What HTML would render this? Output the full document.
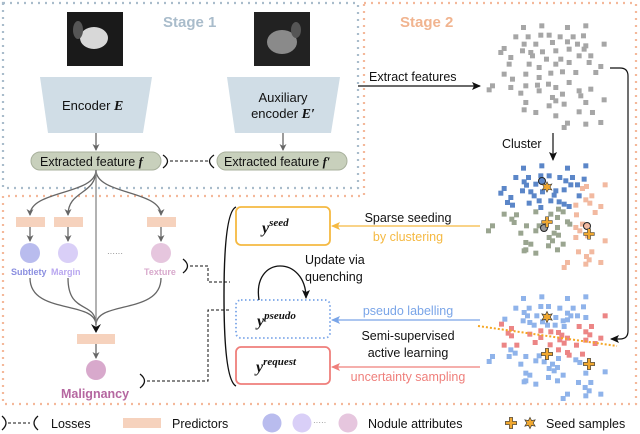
<!DOCTYPE html>
<html><head><meta charset="utf-8"><style>
html,body{margin:0;padding:0;background:#fff}
svg{display:block;font-family:"Liberation Sans",sans-serif}
.m{font-family:"Liberation Serif",serif;font-style:italic;font-weight:bold}
.sc rect{width:15px;height:15px}
</style></head><body>
<svg width="640" height="434" viewBox="0 0 640 434" xmlns="http://www.w3.org/2000/svg">
<defs>
<marker id="ag" markerWidth="8" markerHeight="8" refX="6" refY="4" orient="auto" markerUnits="userSpaceOnUse"><path d="M0,0.5 L7,4 L0,7.5 L2,4 Z" fill="#666"/></marker>
<marker id="ak" markerWidth="10" markerHeight="10" refX="8" refY="5" orient="auto" markerUnits="userSpaceOnUse"><path d="M0,1 L9,5 L0,9 L2,5 Z" fill="#111"/></marker>
<marker id="ao" markerWidth="10" markerHeight="10" refX="8" refY="5" orient="auto" markerUnits="userSpaceOnUse"><path d="M0,1 L9,5 L0,9 L2,5 Z" fill="#f5b942"/></marker>
<marker id="ab" markerWidth="10" markerHeight="10" refX="8" refY="5" orient="auto" markerUnits="userSpaceOnUse"><path d="M0,1 L9,5 L0,9 L2,5 Z" fill="#7aa5e8"/></marker>
<marker id="ar" markerWidth="10" markerHeight="10" refX="8" refY="5" orient="auto" markerUnits="userSpaceOnUse"><path d="M0,1 L9,5 L0,9 L2,5 Z" fill="#ef7f7b"/></marker>
<g id="plus"><path d="M-2,-7 H2 V-2 H7 V2 H2 V7 H-2 V2 H-7 V-2 H-2 Z" fill="#f0a830" stroke="#333" stroke-width="0.8"/></g>
<g id="star"><polygon points="0,-7 2,-3 6.5,-4 4,0 6.5,4 2,3 0,7 -2,3 -6.5,4 -4,0 -6.5,-4 -2,-3" fill="#f0a830" stroke="#333" stroke-width="0.8"/></g>
</defs>

<rect x="3" y="3" width="355" height="185" fill="none" stroke="#a9bccb" stroke-width="2.2" stroke-dasharray="2 5"/>
<path d="M364,3 H636 V404 H3 V196 H364 Z" fill="none" stroke="#f4b89a" stroke-width="2.2" stroke-dasharray="2 5"/>
<text x="163" y="27" font-size="15" font-weight="bold" fill="#a9bccb">Stage 1</text>
<text x="400" y="27" font-size="15" font-weight="bold" fill="#f1b48f">Stage 2</text>

<rect x="67" y="12" width="56" height="54" fill="#1a1a1a"/>
<ellipse cx="94" cy="38" rx="14" ry="11" fill="#d8d8d8"/>
<ellipse cx="78" cy="30" rx="5" ry="9" fill="#555"/>
<rect x="254" y="12" width="56" height="54" fill="#222"/>
<ellipse cx="282" cy="42" rx="15" ry="12" fill="#8a8a8a"/>
<ellipse cx="296" cy="30" rx="5" ry="8" fill="#555"/>

<polygon points="40,77 152,77 143,133 48,133" fill="#d0dde6"/>
<text x="62" y="110" font-size="13" fill="#111">Encoder <tspan class="m" font-size="14">E</tspan></text>
<polygon points="227,77 340,77 331,133 235,133" fill="#d0dde6"/>
<text x="283" y="102" font-size="13" fill="#111" text-anchor="middle">Auxiliary</text>
<text x="283" y="118" font-size="13" fill="#111" text-anchor="middle">encoder <tspan class="m" font-size="14">E′</tspan></text>
<line x1="96" y1="133" x2="96" y2="150" stroke="#666" stroke-width="1.3" marker-end="url(#ag)"/>
<line x1="283" y1="133" x2="283" y2="150" stroke="#666" stroke-width="1.3" marker-end="url(#ag)"/>

<rect x="31" y="152" width="130" height="18" rx="9" fill="#c8d0bc" stroke="#a8b09c"/>
<text x="40" y="166" font-size="12.5" fill="#111">Extracted feature <tspan class="m">f</tspan></text>
<rect x="217" y="152" width="130" height="18" rx="9" fill="#c8d0bc" stroke="#a8b09c"/>
<text x="224" y="166" font-size="12.5" fill="#111">Extracted feature <tspan class="m">f′</tspan></text>
<path d="M163,155 Q172,161 163,168" fill="none" stroke="#111" stroke-width="1.3"/>
<line x1="170" y1="161" x2="208" y2="161" stroke="#111" stroke-width="1" stroke-dasharray="3 2"/>
<path d="M214,155 Q205,161 214,168" fill="none" stroke="#111" stroke-width="1.3"/>

<text x="369" y="81" font-size="12.5" fill="#111">Extract features</text>
<line x1="358" y1="86" x2="480" y2="86" stroke="#111" stroke-width="1.2" marker-end="url(#ak)"/>
<text x="502" y="148" font-size="12.5" fill="#111">Cluster</text>
<line x1="553" y1="133" x2="553" y2="160" stroke="#111" stroke-width="1.2" marker-end="url(#ak)"/>
<path d="M610,68 H620 Q628,68 628,76 V331 Q628,339 620,339 H611" fill="none" stroke="#111" stroke-width="1.2" marker-end="url(#ak)"/>

<g class="sc" transform="translate(320,0) scale(0.3333)" fill="#a6a6a6">
<rect x="603" y="75" width="15" height="15"/><rect x="658" y="70" width="15" height="15"/><rect x="735" y="75" width="15" height="15"/><rect x="790" y="70" width="15" height="15"/><rect x="580" y="103" width="15" height="15"/><rect x="617" y="103" width="15" height="15"/><rect x="655" y="98" width="15" height="15"/><rect x="680" y="98" width="15" height="15"/><rect x="713" y="103" width="15" height="15"/><rect x="752" y="103" width="15" height="15"/><rect x="783" y="100" width="15" height="15"/><rect x="605" y="125" width="15" height="15"/><rect x="640" y="125" width="15" height="15"/><rect x="690" y="120" width="15" height="15"/><rect x="735" y="118" width="15" height="15"/><rect x="765" y="125" width="15" height="15"/><rect x="790" y="130" width="15" height="15"/><rect x="845" y="125" width="15" height="15"/><rect x="545" y="138" width="15" height="15"/><rect x="600" y="145" width="15" height="15"/><rect x="625" y="150" width="15" height="15"/><rect x="660" y="148" width="15" height="15"/><rect x="700" y="145" width="15" height="15"/><rect x="740" y="140" width="15" height="15"/><rect x="785" y="140" width="15" height="15"/><rect x="535" y="150" width="15" height="15"/><rect x="565" y="165" width="15" height="15"/><rect x="630" y="160" width="15" height="15"/><rect x="672" y="170" width="15" height="15"/><rect x="715" y="170" width="15" height="15"/><rect x="770" y="160" width="15" height="15"/><rect x="805" y="160" width="15" height="15"/><rect x="560" y="185" width="15" height="15"/><rect x="620" y="185" width="15" height="15"/><rect x="650" y="195" width="15" height="15"/><rect x="700" y="185" width="15" height="15"/><rect x="740" y="180" width="15" height="15"/><rect x="800" y="180" width="15" height="15"/><rect x="835" y="192" width="15" height="15"/><rect x="545" y="215" width="15" height="15"/><rect x="570" y="230" width="15" height="15"/><rect x="610" y="215" width="15" height="15"/><rect x="650" y="225" width="15" height="15"/><rect x="685" y="212" width="15" height="15"/><rect x="720" y="208" width="15" height="15"/><rect x="760" y="210" width="15" height="15"/><rect x="820" y="210" width="15" height="15"/><rect x="510" y="250" width="15" height="15"/><rect x="500" y="262" width="15" height="15"/><rect x="565" y="255" width="15" height="15"/><rect x="610" y="250" width="15" height="15"/><rect x="645" y="248" width="15" height="15"/><rect x="678" y="245" width="15" height="15"/><rect x="700" y="255" width="15" height="15"/><rect x="740" y="240" width="15" height="15"/><rect x="770" y="265" width="15" height="15"/><rect x="805" y="260" width="15" height="15"/><rect x="595" y="272" width="15" height="15"/><rect x="650" y="265" width="15" height="15"/><rect x="690" y="285" width="15" height="15"/><rect x="720" y="275" width="15" height="15"/><rect x="775" y="280" width="15" height="15"/><rect x="845" y="292" width="15" height="15"/><rect x="610" y="300" width="15" height="15"/><rect x="640" y="330" width="15" height="15"/><rect x="680" y="310" width="15" height="15"/><rect x="700" y="295" width="15" height="15"/><rect x="725" y="305" width="15" height="15"/><rect x="790" y="300" width="15" height="15"/><rect x="605" y="322" width="15" height="15"/><rect x="770" y="328" width="15" height="15"/><rect x="810" y="330" width="15" height="15"/><rect x="700" y="340" width="15" height="15"/><rect x="835" y="360" width="15" height="15"/><rect x="735" y="362" width="15" height="15"/><rect x="725" y="375" width="15" height="15"/><rect x="790" y="365" width="15" height="15"/>
</g>

<g class="sc" transform="translate(470,160) scale(0.3333)">
<g fill="#5b86c8">
<rect x="153" y="17" width="15" height="15"/><rect x="208" y="10" width="15" height="15"/><rect x="285" y="17" width="15" height="15"/><rect x="340" y="10" width="15" height="15"/><rect x="130" y="45" width="15" height="15"/><rect x="168" y="45" width="15" height="15"/><rect x="205" y="40" width="15" height="15"/><rect x="230" y="40" width="15" height="15"/><rect x="262" y="45" width="15" height="15"/><rect x="300" y="45" width="15" height="15"/><rect x="335" y="50" width="15" height="15"/><rect x="155" y="58" width="15" height="15"/><rect x="190" y="65" width="15" height="15"/><rect x="280" y="55" width="15" height="15"/><rect x="295" y="67" width="15" height="15"/><rect x="315" y="67" width="15" height="15"/><rect x="162" y="68" width="15" height="15"/><rect x="95" y="78" width="15" height="15"/><rect x="85" y="92" width="15" height="15"/><rect x="150" y="85" width="15" height="15"/><rect x="175" y="88" width="15" height="15"/><rect x="185" y="100" width="15" height="15"/><rect x="210" y="88" width="15" height="15"/><rect x="250" y="85" width="15" height="15"/><rect x="275" y="82" width="15" height="15"/><rect x="320" y="100" width="15" height="15"/><rect x="115" y="105" width="15" height="15"/><rect x="105" y="120" width="15" height="15"/><rect x="170" y="122" width="15" height="15"/><rect x="200" y="115" width="15" height="15"/><rect x="235" y="115" width="15" height="15"/><rect x="260" y="118" width="15" height="15"/><rect x="275" y="125" width="15" height="15"/><rect x="290" y="132" width="15" height="15"/><rect x="120" y="128" width="15" height="15"/><rect x="205" y="135" width="15" height="15"/><rect x="245" y="98" width="15" height="15"/>
</g>
<g fill="#9aa590">
<rect x="95" y="155" width="15" height="15"/><rect x="132" y="157" width="15" height="15"/><rect x="118" y="170" width="15" height="15"/><rect x="125" y="180" width="15" height="15"/><rect x="190" y="148" width="15" height="15"/><rect x="235" y="155" width="15" height="15"/><rect x="258" y="140" width="15" height="15"/><rect x="272" y="148" width="15" height="15"/><rect x="255" y="165" width="15" height="15"/><rect x="285" y="178" width="15" height="15"/><rect x="292" y="185" width="15" height="15"/><rect x="60" y="190" width="15" height="15"/><rect x="48" y="205" width="15" height="15"/><rect x="162" y="190" width="15" height="15"/><rect x="145" y="212" width="15" height="15"/><rect x="200" y="190" width="15" height="15"/><rect x="190" y="205" width="15" height="15"/><rect x="255" y="195" width="15" height="15"/><rect x="245" y="212" width="15" height="15"/><rect x="230" y="225" width="15" height="15"/><rect x="240" y="235" width="15" height="15"/><rect x="258" y="218" width="15" height="15"/><rect x="160" y="240" width="15" height="15"/><rect x="175" y="245" width="15" height="15"/><rect x="160" y="262" width="15" height="15"/><rect x="155" y="265" width="15" height="15"/><rect x="190" y="272" width="15" height="15"/><rect x="228" y="250" width="15" height="15"/><rect x="255" y="262" width="15" height="15"/><rect x="272" y="245" width="15" height="15"/>
</g>
<g fill="#f2b9a0">
<rect x="342" y="72" width="15" height="15"/><rect x="330" y="78" width="15" height="15"/><rect x="398" y="67" width="15" height="15"/><rect x="358" y="100" width="15" height="15"/><rect x="340" y="112" width="15" height="15"/><rect x="352" y="122" width="15" height="15"/><rect x="310" y="128" width="15" height="15"/><rect x="385" y="132" width="15" height="15"/><rect x="368" y="150" width="15" height="15"/><rect x="312" y="157" width="15" height="15"/><rect x="330" y="185" width="15" height="15"/><rect x="310" y="195" width="15" height="15"/><rect x="322" y="205" width="15" height="15"/><rect x="345" y="220" width="15" height="15"/><rect x="310" y="225" width="15" height="15"/><rect x="398" y="235" width="15" height="15"/><rect x="318" y="268" width="15" height="15"/><rect x="342" y="282" width="15" height="15"/><rect x="350" y="292" width="15" height="15"/><rect x="358" y="268" width="15" height="15"/><rect x="285" y="300" width="15" height="15"/><rect x="275" y="315" width="15" height="15"/><rect x="340" y="305" width="15" height="15"/><rect x="385" y="300" width="15" height="15"/>
</g>
</g>
<circle cx="542" cy="181" r="3.5" fill="#5b86c8" stroke="#222" stroke-width="1"/>
<use href="#star" transform="translate(547,187) scale(0.75)"/>
<circle cx="544" cy="228" r="3.5" fill="#999" stroke="#222" stroke-width="1"/>
<use href="#plus" transform="translate(547,222) scale(0.75)"/>
<circle cx="587" cy="226" r="3.5" fill="#f2b9a0" stroke="#222" stroke-width="1"/>
<use href="#plus" transform="translate(589,234) scale(0.75)"/>

<g class="sc" transform="translate(470,280) scale(0.3333)">
<g fill="#8fb3ea">
<rect x="153" y="48" width="15" height="15"/><rect x="208" y="43" width="15" height="15"/><rect x="285" y="48" width="15" height="15"/><rect x="340" y="43" width="15" height="15"/><rect x="130" y="77" width="15" height="15"/><rect x="170" y="77" width="15" height="15"/><rect x="205" y="72" width="15" height="15"/><rect x="228" y="72" width="15" height="15"/><rect x="262" y="77" width="15" height="15"/><rect x="302" y="77" width="15" height="15"/><rect x="333" y="73" width="15" height="15"/><rect x="97" y="110" width="15" height="15"/><rect x="155" y="90" width="15" height="15"/><rect x="165" y="100" width="15" height="15"/><rect x="193" y="100" width="15" height="15"/><rect x="285" y="92" width="15" height="15"/><rect x="295" y="100" width="15" height="15"/><rect x="315" y="100" width="15" height="15"/><rect x="340" y="105" width="15" height="15"/><rect x="152" y="115" width="15" height="15"/><rect x="172" y="120" width="15" height="15"/><rect x="185" y="128" width="15" height="15"/><rect x="210" y="118" width="15" height="15"/><rect x="250" y="105" width="15" height="15"/><rect x="272" y="115" width="15" height="15"/><rect x="285" y="112" width="15" height="15"/><rect x="225" y="128" width="15" height="15"/><rect x="248" y="128" width="15" height="15"/><rect x="275" y="132" width="15" height="15"/><rect x="115" y="202" width="15" height="15"/><rect x="128" y="212" width="15" height="15"/><rect x="60" y="222" width="15" height="15"/><rect x="50" y="237" width="15" height="15"/><rect x="160" y="222" width="15" height="15"/><rect x="200" y="220" width="15" height="15"/><rect x="190" y="235" width="15" height="15"/><rect x="215" y="238" width="15" height="15"/><rect x="145" y="245" width="15" height="15"/><rect x="240" y="245" width="15" height="15"/><rect x="258" y="228" width="15" height="15"/><rect x="310" y="232" width="15" height="15"/><rect x="322" y="240" width="15" height="15"/><rect x="230" y="258" width="15" height="15"/><rect x="245" y="265" width="15" height="15"/><rect x="272" y="278" width="15" height="15"/><rect x="160" y="272" width="15" height="15"/><rect x="172" y="278" width="15" height="15"/><rect x="160" y="295" width="15" height="15"/><rect x="155" y="298" width="15" height="15"/><rect x="190" y="305" width="15" height="15"/><rect x="228" y="285" width="15" height="15"/><rect x="255" y="295" width="15" height="15"/><rect x="318" y="300" width="15" height="15"/><rect x="355" y="300" width="15" height="15"/><rect x="338" y="315" width="15" height="15"/><rect x="350" y="325" width="15" height="15"/><rect x="285" y="335" width="15" height="15"/><rect x="272" y="348" width="15" height="15"/><rect x="340" y="340" width="15" height="15"/><rect x="385" y="335" width="15" height="15"/><rect x="398" y="268" width="15" height="15"/><rect x="340" y="272" width="15" height="15"/><rect x="255" y="255" width="15" height="15"/><rect x="110" y="222" width="15" height="15"/>
</g>
<g fill="#ec8585">
<rect x="87" y="125" width="15" height="15"/><rect x="117" y="138" width="15" height="15"/><rect x="107" y="152" width="15" height="15"/><rect x="117" y="160" width="15" height="15"/><rect x="172" y="155" width="15" height="15"/><rect x="205" y="145" width="15" height="15"/><rect x="235" y="148" width="15" height="15"/><rect x="258" y="150" width="15" height="15"/><rect x="268" y="158" width="15" height="15"/><rect x="285" y="167" width="15" height="15"/><rect x="320" y="132" width="15" height="15"/><rect x="357" y="132" width="15" height="15"/><rect x="340" y="148" width="15" height="15"/><rect x="352" y="157" width="15" height="15"/><rect x="385" y="167" width="15" height="15"/><rect x="398" y="100" width="15" height="15"/><rect x="95" y="188" width="15" height="15"/><rect x="133" y="188" width="15" height="15"/><rect x="188" y="180" width="15" height="15"/><rect x="205" y="165" width="15" height="15"/><rect x="233" y="187" width="15" height="15"/><rect x="262" y="172" width="15" height="15"/><rect x="275" y="182" width="15" height="15"/><rect x="312" y="188" width="15" height="15"/><rect x="340" y="173" width="15" height="15"/><rect x="368" y="183" width="15" height="15"/><rect x="258" y="202" width="15" height="15"/><rect x="285" y="210" width="15" height="15"/><rect x="290" y="218" width="15" height="15"/><rect x="330" y="215" width="15" height="15"/>
</g>
</g>
<line x1="478" y1="326" x2="617" y2="346" stroke="#f5a623" stroke-width="2" stroke-dasharray="2 2"/>
<use href="#star" transform="translate(547,317) scale(0.8)"/>
<use href="#plus" transform="translate(547,354) scale(0.8)"/>
<use href="#plus" transform="translate(589,364) scale(0.8)"/>

<g fill="none" stroke="#666" stroke-width="1.3">
<path d="M96,170 C96,195 30,190 30,215" marker-end="url(#ag)"/>
<path d="M96,170 C96,195 68,190 68,215" marker-end="url(#ag)"/>
<path d="M96,170 C96,195 161,190 161,215" marker-end="url(#ag)"/>
<line x1="30" y1="227" x2="30" y2="241" marker-end="url(#ag)"/>
<line x1="68" y1="227" x2="68" y2="241" marker-end="url(#ag)"/>
<line x1="161" y1="227" x2="161" y2="241" marker-end="url(#ag)"/>
<path d="M30,278 C30,315 96,300 96,325"/>
<path d="M68,278 C68,315 96,300 96,325"/>
<path d="M161,278 C161,315 96,300 96,325"/>
<line x1="96" y1="344" x2="96" y2="358" marker-end="url(#ag)"/>
</g>
<line x1="96" y1="170" x2="96" y2="332" stroke="#888" stroke-width="1.3"/>
<path d="M91,324 L96,333 L101,324 L96,327 Z" fill="#111"/>
<rect x="16" y="217" width="29" height="10" fill="#f6d2bd"/>
<rect x="54" y="217" width="29" height="10" fill="#f6d2bd"/>
<rect x="147" y="217" width="29" height="10" fill="#f6d2bd"/>
<rect x="77" y="334" width="38" height="10" fill="#f6d2bd"/>
<circle cx="30" cy="253" r="10" fill="#b9bcee"/>
<circle cx="68" cy="253" r="10" fill="#d9cff7"/>
<circle cx="161" cy="253" r="10" fill="#e6c6de"/>
<circle cx="96" cy="370" r="10" fill="#d8a9cc"/>
<text x="107" y="256" font-size="8" fill="#777">······</text>
<text x="11" y="275" font-size="9" font-weight="bold" fill="#8a8ee0">Subtlety</text>
<text x="51" y="275" font-size="9" font-weight="bold" fill="#b9a7f0">Margin</text>
<text x="144" y="275" font-size="9" font-weight="bold" fill="#d8a9cc">Texture</text>
<text x="61" y="398" font-size="12.5" font-weight="bold" fill="#b567a0">Malignancy</text>

<path d="M183,259 Q192,266 183,273" fill="none" stroke="#111" stroke-width="1.3"/>
<path d="M190,266 H208 V282 H230" fill="none" stroke="#111" stroke-width="1" stroke-dasharray="3 2"/>
<path d="M140,374 Q149,381 140,388" fill="none" stroke="#111" stroke-width="1.3"/>
<path d="M147,381 H208 V310 H230" fill="none" stroke="#111" stroke-width="1" stroke-dasharray="3 2"/>
<path d="M236,207 Q224,212 224,296 Q224,380 236,386" fill="none" stroke="#111" stroke-width="1.4"/>

<rect x="236" y="207" width="94" height="38" rx="5" fill="#fff" stroke="#f5b942" stroke-width="1.8"/>
<text x="262" y="233" class="m" font-size="16" fill="#111">y<tspan font-size="11" dy="-7">seed</tspan></text>
<rect x="236" y="300" width="94" height="38" rx="5" fill="#fff" stroke="#7aa5e8" stroke-width="1.8" stroke-dasharray="1.5 2.5"/>
<text x="257" y="326" class="m" font-size="16" fill="#111">y<tspan font-size="11" dy="-7">pseudo</tspan></text>
<rect x="236" y="347" width="94" height="37" rx="5" fill="#fff" stroke="#ef7f7b" stroke-width="1.8"/>
<text x="256" y="372" class="m" font-size="16" fill="#111">y<tspan font-size="11" dy="-7">request</tspan></text>
<path d="M259,300 C252,255 306,255 306,298" fill="none" stroke="#111" stroke-width="1.3" marker-end="url(#ak)"/>
<text x="305" y="264" font-size="12.5" fill="#111">Update via</text>
<text x="305" y="281" font-size="12.5" fill="#111">quenching</text>

<line x1="480" y1="226" x2="332" y2="226" stroke="#f5b942" stroke-width="1.3" marker-end="url(#ao)"/>
<text x="408" y="222" font-size="12.5" fill="#111" text-anchor="middle">Sparse seeding</text>
<text x="408" y="241" font-size="12.5" fill="#f5b942" text-anchor="middle">by clustering</text>
<line x1="480" y1="320" x2="332" y2="320" stroke="#7aa5e8" stroke-width="1.3" marker-end="url(#ab)"/>
<text x="408" y="315" font-size="12.5" fill="#7aa5e8" text-anchor="middle">pseudo labelling</text>
<text x="408" y="340" font-size="12.5" fill="#111" text-anchor="middle">Semi-supervised</text>
<text x="408" y="357" font-size="12.5" fill="#111" text-anchor="middle">active learning</text>
<line x1="480" y1="367" x2="332" y2="367" stroke="#ef7f7b" stroke-width="1.3" marker-end="url(#ar)"/>
<text x="408" y="381" font-size="12.5" fill="#ef7f7b" text-anchor="middle">uncertainty sampling</text>

<path d="M2,416 Q10,423 2,430" fill="none" stroke="#111" stroke-width="1.3"/>
<line x1="8" y1="423" x2="30" y2="423" stroke="#111" stroke-width="1" stroke-dasharray="3 2"/>
<path d="M38,416 Q30,423 38,430" fill="none" stroke="#111" stroke-width="1.3"/>
<text x="51" y="428" font-size="12.5" fill="#111">Losses</text>
<rect x="123" y="418" width="38" height="10" fill="#f6d2bd"/>
<text x="172" y="428" font-size="12.5" fill="#111">Predictors</text>
<circle cx="272" cy="423" r="9.5" fill="#b9bcee"/>
<circle cx="302" cy="423" r="9.5" fill="#d9cff7"/>
<text x="313" y="425" font-size="8" fill="#888">·····</text>
<circle cx="348" cy="423" r="9.5" fill="#e6c6de"/>
<text x="368" y="428" font-size="12.5" fill="#111">Nodule attributes</text>
<use href="#plus" transform="translate(511,423) scale(0.8)"/>
<use href="#star" transform="translate(530,423) scale(0.8)"/>
<text x="546" y="428" font-size="12.5" fill="#111">Seed samples</text>
</svg>
</body></html>
